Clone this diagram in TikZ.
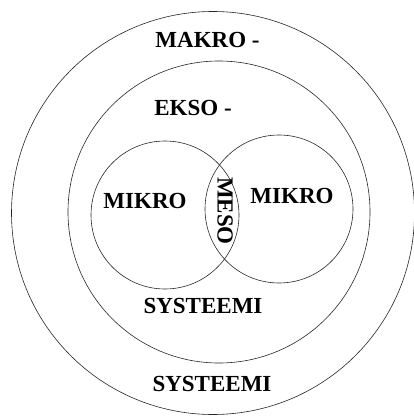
\documentclass[tikz,border=0pt]{standalone}
\usepackage{fontspec}
\setmainfont{Liberation Serif}
\begin{document}
\begin{tikzpicture}[x=1pt,y=-1pt,
  ring/.style={draw=black!85,line width=0.6pt},
  lab/.style={font=\fontsize{23}{23}\selectfont\bfseries,inner sep=0pt,anchor=base}]
\useasboundingbox (0,0) rectangle (414,417);
\node[ring,circle,minimum size=403pt,inner sep=0pt] (makro) at (213,213) {};
\node[ring,circle,minimum size=302pt,inner sep=0pt] (ekso) at (219,212) {};
\node[ring,circle,minimum size=148pt,inner sep=0pt] (mikroL) at (165,215) {};
\node[ring,circle,minimum size=148pt,inner sep=0pt] (mikroR) at (279,209) {};
\node[lab] (tmakro) at (207.5,48) {MAKRO -};
\node[lab] (tekso) at (193,115) {EKSO -};
\node[lab] (tmikroL) at (145,208) {MIKRO};
\node[lab] (tmikroR) at (292,203) {MIKRO};
\node[lab,anchor=center,rotate=-90] (tmeso) at (225,211) {MESO};
\node[lab] (tsys1) at (203,313) {SYSTEEMI};
\node[lab] (tsys2) at (212,391) {SYSTEEMI};
\end{tikzpicture}
\end{document}
